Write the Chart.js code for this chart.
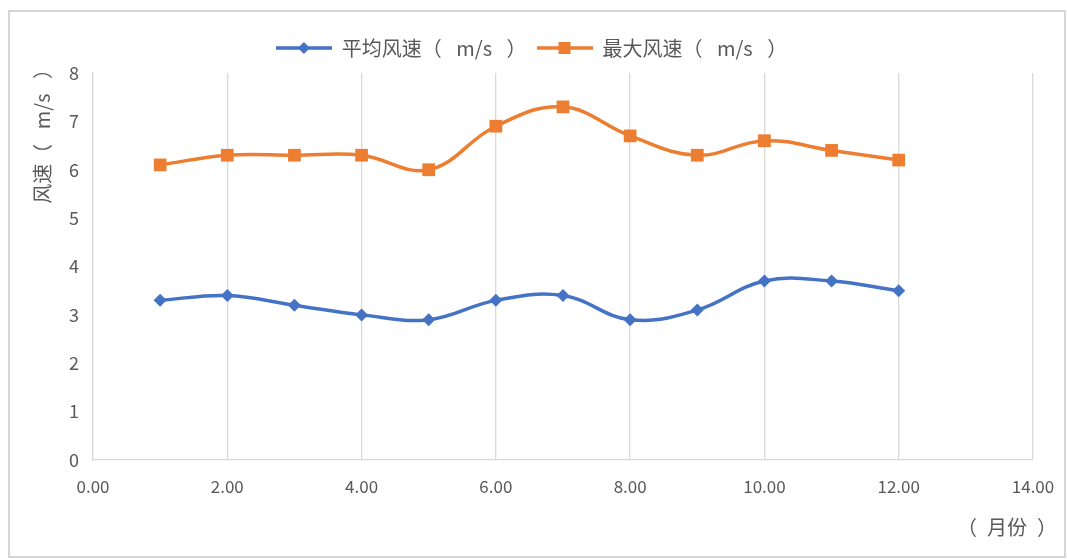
<!DOCTYPE html>
<html>
<head>
<meta charset="utf-8">
<script src="https://cdn.jsdelivr.net/npm/chart.js@4.4.1/dist/chart.umd.min.js"></script>
<style>
  html, body { margin: 0; padding: 0; background: #ffffff; }
  #wrap { position: relative; width: 1067px; height: 559px; overflow: hidden; }
  #frame { position: absolute; left: 8px; top: 10px; width: 1058px; height: 548px;
           border: 2px solid #d6d6d6; box-sizing: border-box; }
  canvas { position: absolute; left: 0; top: 0; }
</style>
</head>
<body>
<div id="wrap">
  <div id="frame"></div>
  <canvas id="c" width="1067" height="559"></canvas>
</div>
<script>
// Monthly wind speed (m/s)
const months   = [1, 2, 3, 4, 5, 6, 7, 8, 9, 10, 11, 12];
const avgSpeed = [3.3, 3.4, 3.2, 3.0, 2.9, 3.3, 3.4, 2.9, 3.1, 3.7, 3.7, 3.5];
const maxSpeed = [6.1, 6.3, 6.3, 6.3, 6.0, 6.9, 7.3, 6.7, 6.3, 6.6, 6.4, 6.2];
const seriesNames = ['平均风速（\u2002 m/s \u2002）', '最大风速（\u2002 m/s \u2002）'];
const yTitle = '风速（\u2002 m/s \u2002）';
const xTitle = '（\u2002月份\u2002）';

const BLUE = '#4472C4';
const ORANGE = '#ED7D31';
const TEXT = '#595959';
const FONT = '"Noto Sans CJK SC", "Noto Sans", sans-serif';

// Legend icon: a short line segment with the series marker on it
function legendIcon(color, shape) {
  const cv = document.createElement('canvas');
  cv.width = 56; cv.height = 16;
  const g = cv.getContext('2d');
  g.strokeStyle = color; g.lineWidth = 3.5;
  g.beginPath(); g.moveTo(0, 8); g.lineTo(56, 8); g.stroke();
  g.fillStyle = color;
  g.beginPath();
  if (shape === 'diamond') {
    g.moveTo(28, 2); g.lineTo(34, 8); g.lineTo(28, 14); g.lineTo(22, 8);
  } else {
    g.rect(22, 2, 12, 12);
  }
  g.closePath(); g.fill();
  return cv;
}
const icons = [legendIcon(BLUE, 'diamond'), legendIcon(ORANGE, 'square')];

const toXY = arr => months.map((m, i) => ({ x: m, y: arr[i] }));

// Extra space between the legend and the plot
const legendGap = {
  id: 'legendGap',
  beforeInit(chart) {
    const fit = chart.legend.fit;
    chart.legend.fit = function () {
      fit.bind(chart.legend)();
      this.height += 5;
    };
  }
};

// Axis titles: the x title just past the right end of the x axis,
// the y title rotated along the left side, reaching above the plot top
const axisTitles = {
  id: 'axisTitles',
  afterDraw(chart) {
    const { ctx, chartArea } = chart;
    ctx.save();
    ctx.font = '20px ' + FONT;
    ctx.fillStyle = TEXT;
    ctx.textBaseline = 'middle';
    ctx.textAlign = 'right';
    ctx.fillText(xTitle, chartArea.right + 24, chartArea.bottom + 67);
    ctx.translate(chartArea.left - 51, chartArea.top - 14);
    ctx.rotate(-Math.PI / 2);
    ctx.textAlign = 'right';
    ctx.fillText(yTitle, 0, 0);
    ctx.restore();
  }
};

new Chart(document.getElementById('c'), {
  type: 'line',
  data: {
    datasets: [
      {
        label: seriesNames[0],
        data: toXY(avgSpeed),
        borderColor: BLUE, backgroundColor: BLUE,
        borderWidth: 3.5, tension: 0.4,
        pointStyle: 'rectRot', pointRadius: 6.5, pointHoverRadius: 6.5,
        pointBorderWidth: 0
      },
      {
        label: seriesNames[1],
        data: toXY(maxSpeed),
        borderColor: ORANGE, backgroundColor: ORANGE,
        borderWidth: 3.5, tension: 0.4,
        pointStyle: 'rect', pointRadius: 9, pointHoverRadius: 9,
        pointBorderWidth: 0
      }
    ]
  },
  options: {
    responsive: false,
    animation: false,
    layout: { padding: { left: 30, right: 34, top: 28, bottom: 22 } },
    plugins: {
      tooltip: { enabled: false },
      legend: {
        position: 'top',
        labels: {
          usePointStyle: true,
          pointStyleWidth: 56,
          boxHeight: 16,
          padding: 10,
          color: TEXT,
          font: { family: FONT, size: 20 },
          generateLabels(chart) {
            return chart.data.datasets.map((ds, i) => ({
              text: ds.label,
              pointStyle: icons[i],
              fillStyle: ds.borderColor,
              strokeStyle: ds.borderColor,
              lineWidth: 0,
              fontColor: TEXT,
              datasetIndex: i,
              hidden: false
            }));
          }
        }
      }
    },
    scales: {
      x: {
        type: 'linear',
        min: 0, max: 14,
        ticks: {
          stepSize: 2,
          color: TEXT,
          font: { family: FONT, size: 17 },
          padding: 16,
          callback: v => v.toFixed(2)
        },
        grid: { color: '#d9d9d9', lineWidth: 1.3, drawTicks: false },
        border: { color: '#d9d9d9', width: 1.3 },
        afterFit(scale) {
          scale.height = 77;
          scale.paddingRight = 0;
        }
      },
      y: {
        min: 0, max: 8,
        ticks: {
          stepSize: 1,
          color: TEXT,
          font: { family: FONT, size: 18 },
          padding: 14
        },
        grid: { display: false, drawTicks: false },
        border: { color: '#d9d9d9', width: 1.3 },
        afterFit(scale) { scale.width = 63; }
      }
    }
  },
  plugins: [legendGap, axisTitles]
});
</script>
</body>
</html>
